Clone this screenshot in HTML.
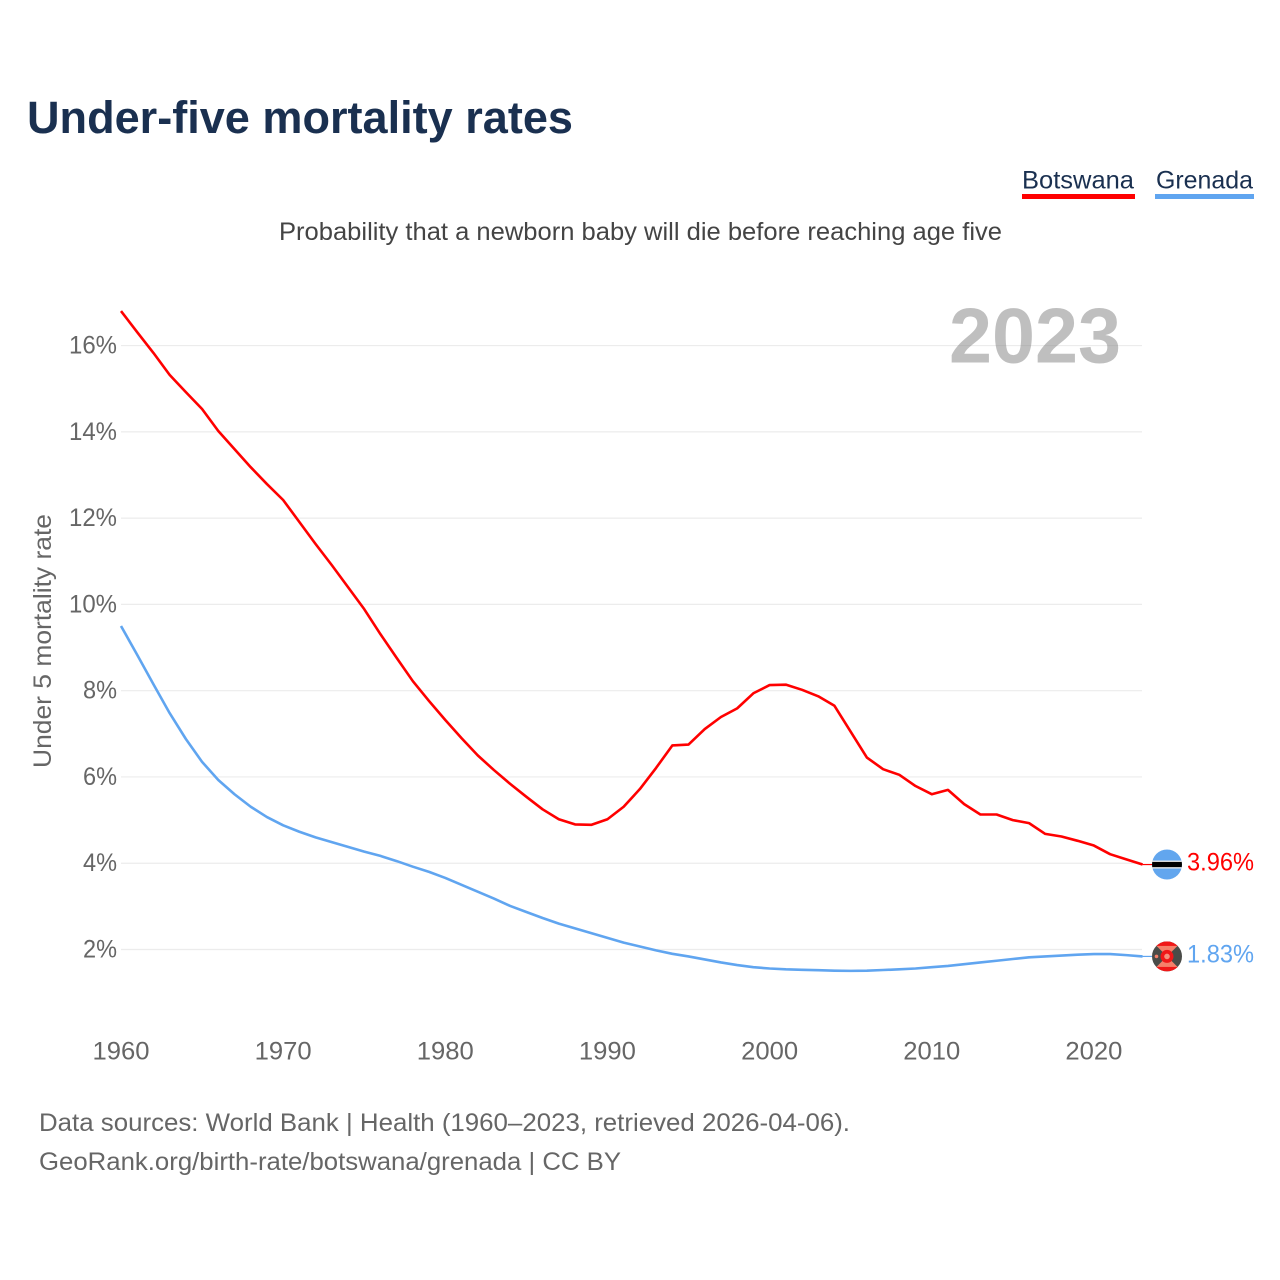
<!DOCTYPE html>
<html lang="en">
<head>
<meta charset="utf-8">
<title>Under-five mortality rates</title>
<style>
html,body{margin:0;padding:0;background:#fff}
svg{display:block}
text{font-family:"Liberation Sans",sans-serif}
</style>
</head>
<body>
<svg id="chart" xmlns="http://www.w3.org/2000/svg" width="1280" height="1280" viewBox="0 0 1280 1280">
  <defs>
    <clipPath id="flag-clip-a"><circle cx="0" cy="0" r="15"/></clipPath>
    <clipPath id="flag-clip-b"><circle cx="0" cy="0" r="15"/></clipPath>
  </defs>
  <rect x="0" y="0" width="1280" height="1280" fill="#fff"/>
  <text x="27" y="133" font-size="45" font-weight="700" fill="#1a3050" textLength="546" lengthAdjust="spacingAndGlyphs">Under-five mortality rates</text>
  <g>
    <g>
      <text x="1022" y="188.5" font-size="25" fill="#1a3050" textLength="112" lengthAdjust="spacingAndGlyphs">Botswana</text>
      <rect x="1022" y="194" width="113" height="5" fill="#ff0000"/>
    </g>
    <g>
      <text x="1156" y="188.5" font-size="25" fill="#1a3050" textLength="97" lengthAdjust="spacingAndGlyphs">Grenada</text>
      <rect x="1155" y="194" width="99" height="5" fill="#60a5f0"/>
    </g>
  </g>
  <text x="279" y="240" font-size="25" fill="#444" textLength="723" lengthAdjust="spacingAndGlyphs">Probability that a newborn baby will die before reaching age five</text>
  <text transform="translate(51,768) rotate(-90)" font-size="25" fill="#666" textLength="254" lengthAdjust="spacingAndGlyphs">Under 5 mortality rate</text>
  <g id="grid"></g>
  <g id="y-ticks"></g>
  <g id="x-ticks"></g>
  <text x="949" y="362.5" font-size="78" font-weight="700" fill="#808080" fill-opacity="0.5" textLength="172" lengthAdjust="spacingAndGlyphs">2023</text>
  <g id="series"></g>
  <g id="flag-botswana">
    <g clip-path="url(#flag-clip-a)">
      <rect x="-15" y="-15" width="30" height="30" fill="#62a6ee"/>
      <rect x="-15" y="-4" width="30" height="8" fill="#e8e8e8"/>
      <rect x="-15" y="-2.6" width="30" height="5.2" fill="#000"/>
    </g>
  </g>
  <g id="flag-grenada">
    <g clip-path="url(#flag-clip-b)">
      <rect x="-15" y="-15" width="30" height="30" fill="#4a4c48"/>
      <polygon points="-11,-11 11,-11 0,0" fill="#f5806a"/>
      <polygon points="-11,11 11,11 0,0" fill="#f5806a"/>
      <rect x="-15" y="-15" width="30" height="4.5" fill="#f01818"/>
      <rect x="-15" y="10.5" width="30" height="4.5" fill="#f01818"/>
      <circle cx="0" cy="0" r="6.5" fill="#f01818"/>
      <circle cx="0" cy="0" r="2.8" fill="#f5907c"/>
      <circle cx="-10.5" cy="0" r="1.8" fill="#f5806a"/>
    </g>
  </g>
  <g id="end-labels"></g>
  <text x="39" y="1131" font-size="25" fill="#666" textLength="811" lengthAdjust="spacingAndGlyphs">Data sources: World Bank | Health (1960–2023, retrieved 2026-04-06).</text>
  <text x="39" y="1170" font-size="25" fill="#666" textLength="582" lengthAdjust="spacingAndGlyphs">GeoRank.org/birth-rate/botswana/grenada | CC BY</text>
</svg>
<script>
const firstYear = 1960;
const botswana = [16.8,16.31,15.83,15.32,14.92,14.53,14.02,13.6,13.18,12.79,12.42,11.91,11.4,10.91,10.4,9.89,9.31,8.76,8.22,7.76,7.32,6.9,6.5,6.16,5.84,5.54,5.25,5.02,4.9,4.89,5.02,5.31,5.72,6.21,6.73,6.75,7.11,7.39,7.59,7.94,8.13,8.14,8.02,7.87,7.65,7.05,6.45,6.18,6.05,5.79,5.6,5.7,5.37,5.13,5.13,5.0,4.93,4.68,4.62,4.52,4.41,4.21,4.09,3.97];
const grenada = [9.5,8.83,8.15,7.48,6.88,6.35,5.93,5.6,5.31,5.07,4.88,4.73,4.6,4.49,4.38,4.27,4.17,4.05,3.92,3.8,3.66,3.5,3.34,3.18,3.01,2.87,2.73,2.6,2.49,2.38,2.27,2.16,2.07,1.98,1.9,1.84,1.77,1.7,1.64,1.59,1.56,1.54,1.53,1.52,1.51,1.505,1.51,1.525,1.54,1.56,1.59,1.62,1.66,1.7,1.74,1.78,1.82,1.84,1.86,1.88,1.895,1.895,1.87,1.84];
const yTickValues = [2,4,6,8,10,12,14,16];
const xTickValues = [1960,1970,1980,1990,2000,2010,2020];
const endValueLabels = ["3.96%","1.83%"];

const NS = 'http://www.w3.org/2000/svg';
function xScale(year){ return 121 + (year - 1960) * 16.215; }
function yScale(v){ return 1035.8 - v * 43.14; }
function make(tag, attrs, parent, text){
  const el = document.createElementNS(NS, tag);
  for (const k in attrs) el.setAttribute(k, attrs[k]);
  if (text !== undefined) el.textContent = text;
  parent.appendChild(el);
  return el;
}
const gridG = document.getElementById('grid');
const yG = document.getElementById('y-ticks');
const xG = document.getElementById('x-ticks');
const seriesG = document.getElementById('series');
const labelsG = document.getElementById('end-labels');

yTickValues.forEach(function(v){
  const line = make('line', {x1:121, x2:1142, y1:yScale(v), y2:yScale(v), stroke:'#ececec', 'stroke-width':1.2}, gridG);
  
  
  const label = make('text', {x:117, y:yScale(v)+8, 'font-size':25, fill:'#666', 'text-anchor':'end', textLength:(v >= 10 ? 48 : 34), lengthAdjust:'spacingAndGlyphs'}, yG, v + '%');
  
  
});
xTickValues.forEach(function(y){
  const label = make('text', {x:xScale(y), y:1059.5, 'font-size':25, fill:'#666', 'text-anchor':'middle', textLength:57, lengthAdjust:'spacingAndGlyphs'}, xG, String(y));
  
  
});
function linePath(values){
  return values.map(function(v,i){
    return (i ? 'L' : 'M') + xScale(firstYear + i).toFixed(2) + ' ' + yScale(v).toFixed(2);
  }).join(' ');
}
const redLine = make('path', {d:linePath(botswana), fill:'none', stroke:'#ff0000', 'stroke-width':2.6, 'stroke-linejoin':'round'}, seriesG);


const blueLine = make('path', {d:linePath(grenada), fill:'none', stroke:'#60a5f0', 'stroke-width':2.6, 'stroke-linejoin':'round'}, seriesG);



const lastX = xScale(firstYear + botswana.length - 1);
const redY = yScale(botswana[botswana.length - 1]);
const blueY = yScale(grenada[grenada.length - 1]);
const redConn = make('line', {x1:lastX, x2:1152, y1:redY, y2:redY, stroke:'#ff0000', 'stroke-width':1.2}, seriesG);


const blueConn = make('line', {x1:lastX, x2:1152, y1:blueY, y2:blueY, stroke:'#60a5f0', 'stroke-width':1.2}, seriesG);


document.getElementById('flag-botswana').setAttribute('transform', 'translate(1167,' + redY + ')');
document.getElementById('flag-grenada').setAttribute('transform', 'translate(1167,' + blueY + ')');
const redLabel = make('text', {x:1187, y:redY+6, 'font-size':25, fill:'#ff0000', textLength:67, lengthAdjust:'spacingAndGlyphs'}, labelsG, endValueLabels[0]);


const blueLabel = make('text', {x:1187, y:blueY+6, 'font-size':25, fill:'#60a5f0', textLength:67, lengthAdjust:'spacingAndGlyphs'}, labelsG, endValueLabels[1]);


</script>
</body>
</html>
